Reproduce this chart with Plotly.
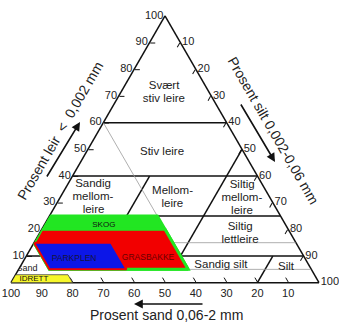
import plotly.graph_objects as go

FONT = "Liberation Sans, Arial, sans-serif"
TICKS = [10, 20, 30, 40, 50, 60, 70, 80, 90, 100]

# Class boundary segments (clay, sand, silt) at each end, in percent
seg_clay = [[60, 60], [40, 40], [25, 25], [10, 10], [40, 25], [50, 10], [10, 0]]
seg_sand = [[40, 0], [60, 0], [75, 0], [90, 0], [35, 50], [0, 40], [10, 20]]
seg_silt = [[0, 40], [0, 60], [0, 75], [0, 90], [25, 25], [50, 50], [80, 80]]

# Thin guide lines
guide_clay = [[60, 25], [15, 15], [5, 5]]
guide_sand = [[40, 40], [40, 0], [40, 0]]
guide_silt = [[0, 35], [45, 85], [55, 95]]

# Usage zones
skog_clay = [25, 25, 5, 5, 15]
skog_sand = [75, 40, 40, 85, 85]
skog_silt = [0, 35, 55, 10, 0]

gras_clay = [20, 20, 5, 5, 15]
gras_sand = [80, 40, 40, 85, 85]
gras_silt = [0, 40, 55, 10, 0]

park_clay = [15, 15, 5, 5]
park_sand = [85, 60, 60, 85]
park_silt = [0, 25, 35, 10]

idrett_clay = [0, 3, 3, 0]
idrett_sand = [100, 97, 80, 80]
idrett_silt = [0, 0, 17, 20]

# Class names (one entry per text line)
class_text = ["Svært", "stiv leire", "Stiv leire",
              "Sandig", "mellom-", "leire",
              "Mellom-", "leire",
              "Siltig", "mellom-", "leire",
              "Siltig", "lettleire",
              "Sandig silt", "Silt"]
class_clay = [73.8, 68.9, 49.1, 36.9, 32.0, 27.2, 34.3, 29.4, 36.5, 31.7, 26.8, 20.8, 15.9, 6.7, 6.0]
class_sand = [13.4, 15.9, 26.4, 54.9, 57.4, 59.6, 30.4, 32.9, 6.7, 9.2, 11.6, 15.2, 17.7, 28.5, 7.7]
class_silt = [12.8, 15.2, 24.5, 8.2, 10.6, 13.2, 35.3, 37.7, 56.8, 59.1, 61.6, 64.0, 66.4, 64.8, 86.3]

zone_text = ["SKOG", "GRASBAKKE", "PARKPLEN", "IDRETT"]
zone_clay = [21.7, 9.4, 9.0, 1.5]
zone_sand = [59.0, 50.8, 75.0, 91.8]
zone_silt = [19.3, 39.8, 16.0, 6.7]
zone_color = ["#111111", "#6a0000", "#15153a", "#111111"]
zone_size = [8, 8.5, 8.5, 8]

fig = go.Figure()

for a, b, c in zip(seg_clay, seg_sand, seg_silt):
    fig.add_trace(go.Scatterternary(a=a, b=b, c=c, mode="lines",
                                    line=dict(color="#111111", width=1.5),
                                    hoverinfo="skip", showlegend=False))

for a, b, c in zip(guide_clay, guide_sand, guide_silt):
    fig.add_trace(go.Scatterternary(a=a, b=b, c=c, mode="lines",
                                    line=dict(color="#9a9a9a", width=0.8),
                                    hoverinfo="skip", showlegend=False))

# class name lying partly under the zones
fig.add_trace(go.Scatterternary(a=[5.4], b=[92.1], c=[2.5], mode="text", text=["Sand"],
                                textfont=dict(family=FONT, size=9, color="#222222"),
                                hoverinfo="skip", showlegend=False))

def zone(a, b, c, fill, line_color, line_width):
    fig.add_trace(go.Scatterternary(a=a + a[:1], b=b + b[:1], c=c + c[:1],
                                    mode="lines", fill="toself", fillcolor=fill,
                                    line=dict(color=line_color, width=line_width),
                                    hoverinfo="skip", showlegend=False))

zone(skog_clay, skog_sand, skog_silt, "#22e622", "#22e622", 3)
zone(gras_clay, gras_sand, gras_silt, "#f20000", "#22e622", 3)
zone(park_clay, park_sand, park_silt, "#0c16e8", "#f20000", 2)
zone(idrett_clay, idrett_sand, idrett_silt, "#f7f72a", "#444444", 0.8)

fig.add_trace(go.Scatterternary(a=class_clay, b=class_sand, c=class_silt, mode="text",
                                text=class_text,
                                textfont=dict(family=FONT, size=11.5, color="#222222"),
                                hoverinfo="skip", showlegend=False))

fig.add_trace(go.Scatterternary(a=zone_clay, b=zone_sand, c=zone_silt, mode="text",
                                text=zone_text,
                                textfont=dict(family=FONT, size=zone_size, color=zone_color),
                                hoverinfo="skip", showlegend=False))

axis_common = dict(tickvals=TICKS, ticks="inside", ticklen=5, tickwidth=1,
                   tickcolor="#111111", linecolor="#111111", linewidth=1.5,
                   showgrid=False, layer="below traces", title=dict(text=""),
                   tickfont=dict(family=FONT, size=11, color="#222222"))

fig.update_layout(
    width=339, height=325,
    margin=dict(l=0, r=0, t=0, b=0),
    paper_bgcolor="white",
    showlegend=False,
    ternary=dict(
        sum=100,
        domain=dict(x=[0.0324, 0.9410], y=[0.1255, 0.9555]),
        bgcolor="white",
        aaxis=axis_common,
        baxis=axis_common,
        caxis=axis_common,
    ),
)

def px(x, y):
    return x / 339, 1 - y / 325

title_font = dict(family=FONT, size=14, color="#222222")
for text, (x, y), ang in [
    ("Prosent leir  <  0,002 mm", px(60, 131), -60),
    ("Prosent silt 0,002-0,06 mm", px(273, 130), 60),
    ("Prosent sand 0,06-2 mm", px(166, 315), 0),
]:
    fig.add_annotation(text=text, x=x, y=y, xref="paper", yref="paper",
                       showarrow=False, textangle=ang, font=title_font,
                       xanchor="center", yanchor="middle")

for (hx, hy), (tx, ty) in [((80, 122), (46, 178)), ((275, 162), (240, 103)), ((134, 304), (204, 304))]:
    x, y = px(hx, hy)
    fig.add_annotation(text="", x=x, y=y, xref="paper", yref="paper",
                       showarrow=True, arrowhead=2, arrowsize=1.1, arrowwidth=1.6,
                       arrowcolor="#111111", ax=tx - hx, ay=ty - hy,
                       axref="pixel", ayref="pixel")

fig.write_html("out.html")
